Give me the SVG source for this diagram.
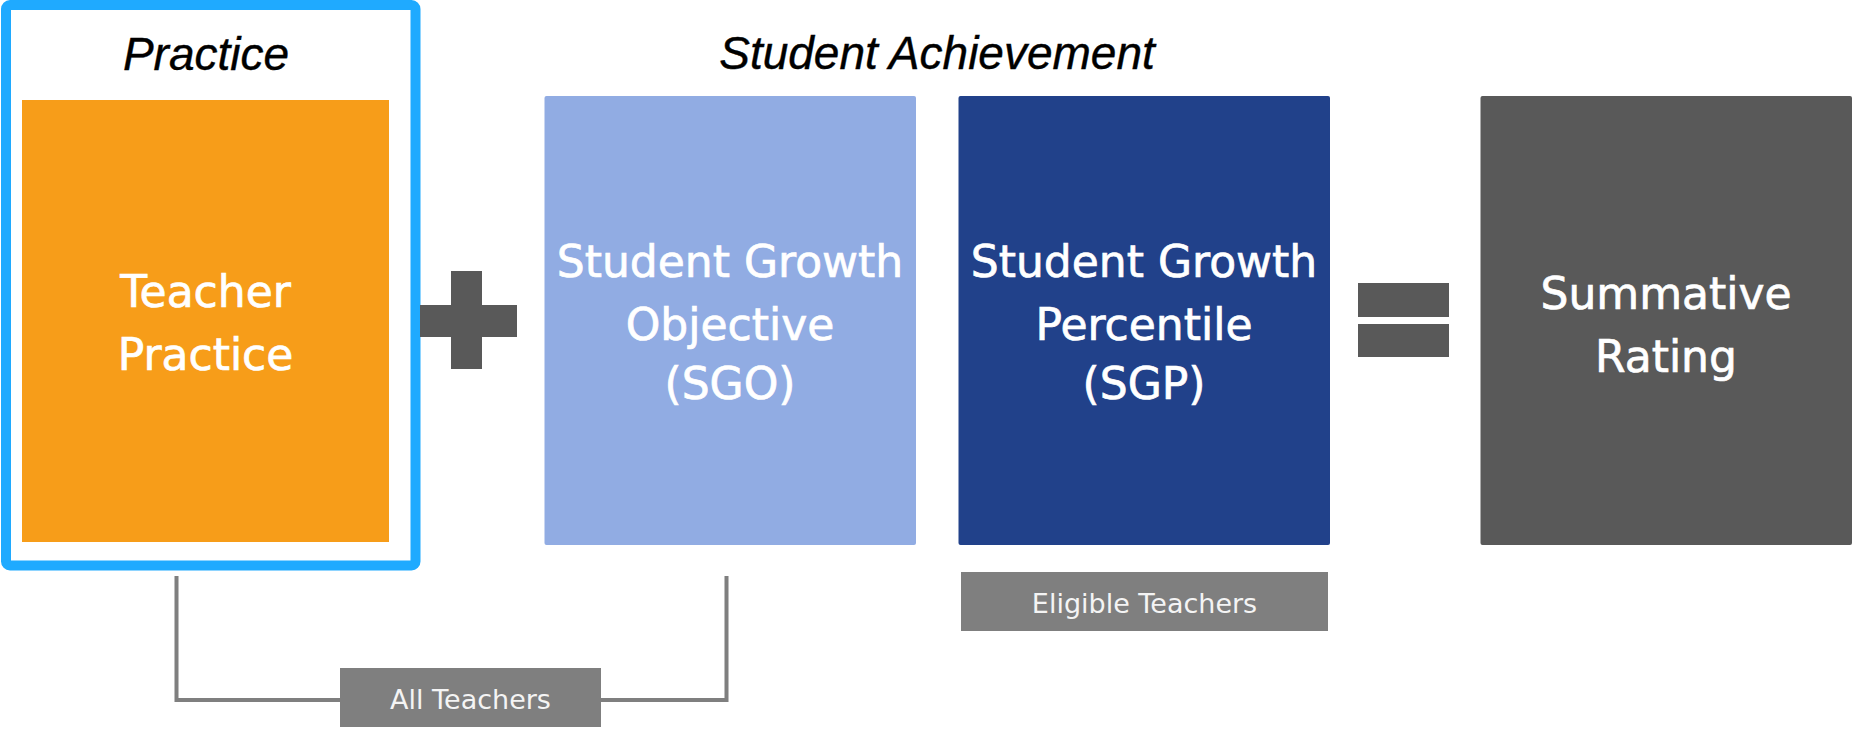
<svg xmlns="http://www.w3.org/2000/svg" width="1854" height="731" viewBox="0 0 1854 731">
<style>
.hdr{font-family:"Liberation Sans",Arial,sans-serif;font-style:italic;font-size:46px;fill:#000;stroke:#000;stroke-width:0.4;text-anchor:middle}
.big{font-family:"DejaVu Sans",Verdana,sans-serif;font-size:44px;fill:#fff;stroke:#fff;stroke-width:0.7;text-anchor:middle}
.lbl{font-family:"DejaVu Sans",Verdana,sans-serif;font-size:27px;fill:#f4f4f4;text-anchor:middle}
.tag{fill:#7f7f7f}
.op{fill:#595959}
</style>
<rect width="1854" height="731" fill="#fff"/>
<g id="connectors">
<path d="M176.5,576 V700 H726.5 V576" fill="none" stroke="#7f7f7f" stroke-width="4"/>
</g>
<g id="practice">
<rect x="6" y="5" width="409.5" height="560.5" rx="4" fill="none" stroke="#1faaff" stroke-width="10"/>
<text class="hdr" x="206" y="70">Practice</text>
</g>
<g id="teacher-practice">
<rect x="22" y="100" width="367" height="442" fill="#f79d19"/>
<text class="big" x="205.5" y="307">Teacher</text>
<text class="big" x="205.5" y="370">Practice</text>
</g>
<g id="plus">
<rect class="op" x="451" y="271" width="31" height="98"/>
<rect class="op" x="420" y="305" width="97" height="32"/>
</g>
<g id="student-achievement">
<text class="hdr" x="937" y="69">Student Achievement</text>
</g>
<g id="sgo">
<rect x="544.5" y="96" width="371.5" height="449" rx="2" fill="#91ace3"/>
<text class="big" x="730" y="277">Student Growth</text>
<text class="big" x="730" y="340">Objective</text>
<text class="big" x="730" y="399">(SGO)</text>
</g>
<g id="sgp">
<rect x="958.5" y="96" width="371.5" height="449" rx="2" fill="#21418a"/>
<text class="big" x="1144" y="277">Student Growth</text>
<text class="big" x="1144" y="340">Percentile</text>
<text class="big" x="1144" y="399">(SGP)</text>
</g>
<g id="equals">
<rect class="op" x="1358" y="283" width="91" height="34"/>
<rect class="op" x="1358" y="324" width="91" height="33"/>
</g>
<g id="summative">
<rect x="1480.5" y="96" width="371.5" height="449" rx="2" fill="#595959"/>
<text class="big" x="1666" y="309">Summative</text>
<text class="big" x="1666" y="372">Rating</text>
</g>
<g id="eligible-teachers">
<rect class="tag" x="961" y="572" width="367" height="59"/>
<text class="lbl" x="1144.5" y="613">Eligible Teachers</text>
</g>
<g id="all-teachers">
<rect class="tag" x="340" y="668" width="261" height="59"/>
<text class="lbl" x="470.5" y="709">All Teachers</text>
</g>
</svg>
